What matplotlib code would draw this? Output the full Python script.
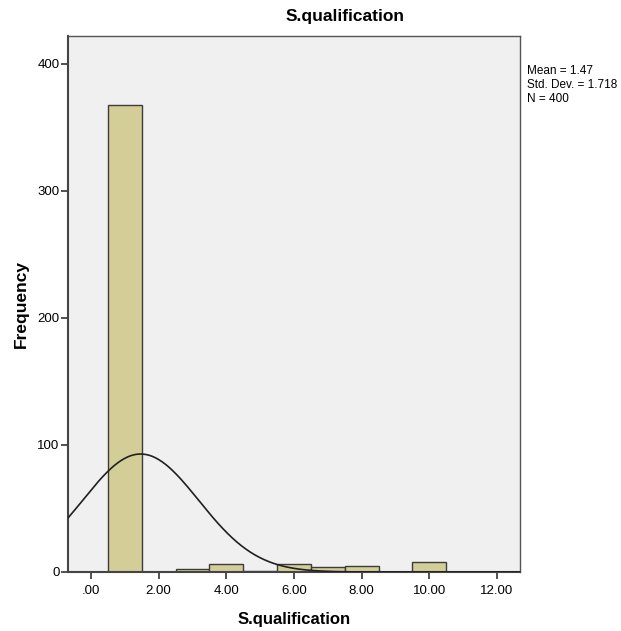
import numpy as np
import matplotlib.pyplot as plt

plt.rcParams['font.family'] = ['Liberation Sans', 'DejaVu Sans']

# histogram counts per value (bin width 1, centered on the value)
values = [1, 3, 4, 5, 6, 7, 8, 10]
counts = [368, 2, 6, 1, 6, 4, 5, 8]
xticks = [0, 2, 4, 6, 8, 10, 12]
yticks = [0, 100, 200, 300, 400]

data = np.repeat(values, counts)
mean = data.mean()
sd = data.std(ddof=1)
n = len(data)

W, H = 621, 631
fig = plt.figure(figsize=(W / 100, H / 100), dpi=100)
ax = fig.add_axes([68 / W, (H - 572) / H, (520 - 68) / W, (572 - 36) / H])
ax.set_facecolor('#f0f0f0')

ax.bar(values, counts, width=1.0, color='#d3ce98', edgecolor='#3c3c3c', linewidth=1.0, zorder=2)

# normal curve scaled to counts
xs = np.linspace(-0.68, 12.68, 400)
pdf = n * 1.0 / (sd * np.sqrt(2 * np.pi)) * np.exp(-0.5 * ((xs - mean) / sd) ** 2)
ax.plot(xs, pdf, color='#202020', linewidth=1.2, zorder=3)

ax.set_xlim(-0.68, 12.68)
ax.set_ylim(0, 422)
ax.set_xticks(xticks)
ax.set_xticklabels(['.00' if t == 0 else '%.2f' % t for t in xticks])
ax.set_yticks(yticks)
ax.tick_params(direction='out', length=5, width=1.2, color='#333333', labelsize=9.5)
ax.tick_params(axis='x', pad=4)
ax.tick_params(axis='y', pad=1)

for s in ['left', 'bottom']:
    ax.spines[s].set_color('#444444')
    ax.spines[s].set_linewidth(1.5)
for s in ['top', 'right']:
    ax.spines[s].set_color('#555555')
    ax.spines[s].set_linewidth(1.0)

ax.set_xlabel('S.qualification', fontsize=12, fontweight='bold', labelpad=11)
ax.set_ylabel('Frequency', fontsize=12.5, fontweight='bold', labelpad=6)
fig.text(345 / W, 1 - 17 / H, 'S.qualification', fontsize=12.5, fontweight='bold', ha='center', va='center')

fig.text(527 / W, 1 - 65 / H,
         'Mean = %.2f\nStd. Dev. = %.3f\nN = %d' % (mean, sd, n),
         fontsize=8.5, ha='left', va='top', linespacing=1.2)

fig.savefig('out.png', dpi=100)
